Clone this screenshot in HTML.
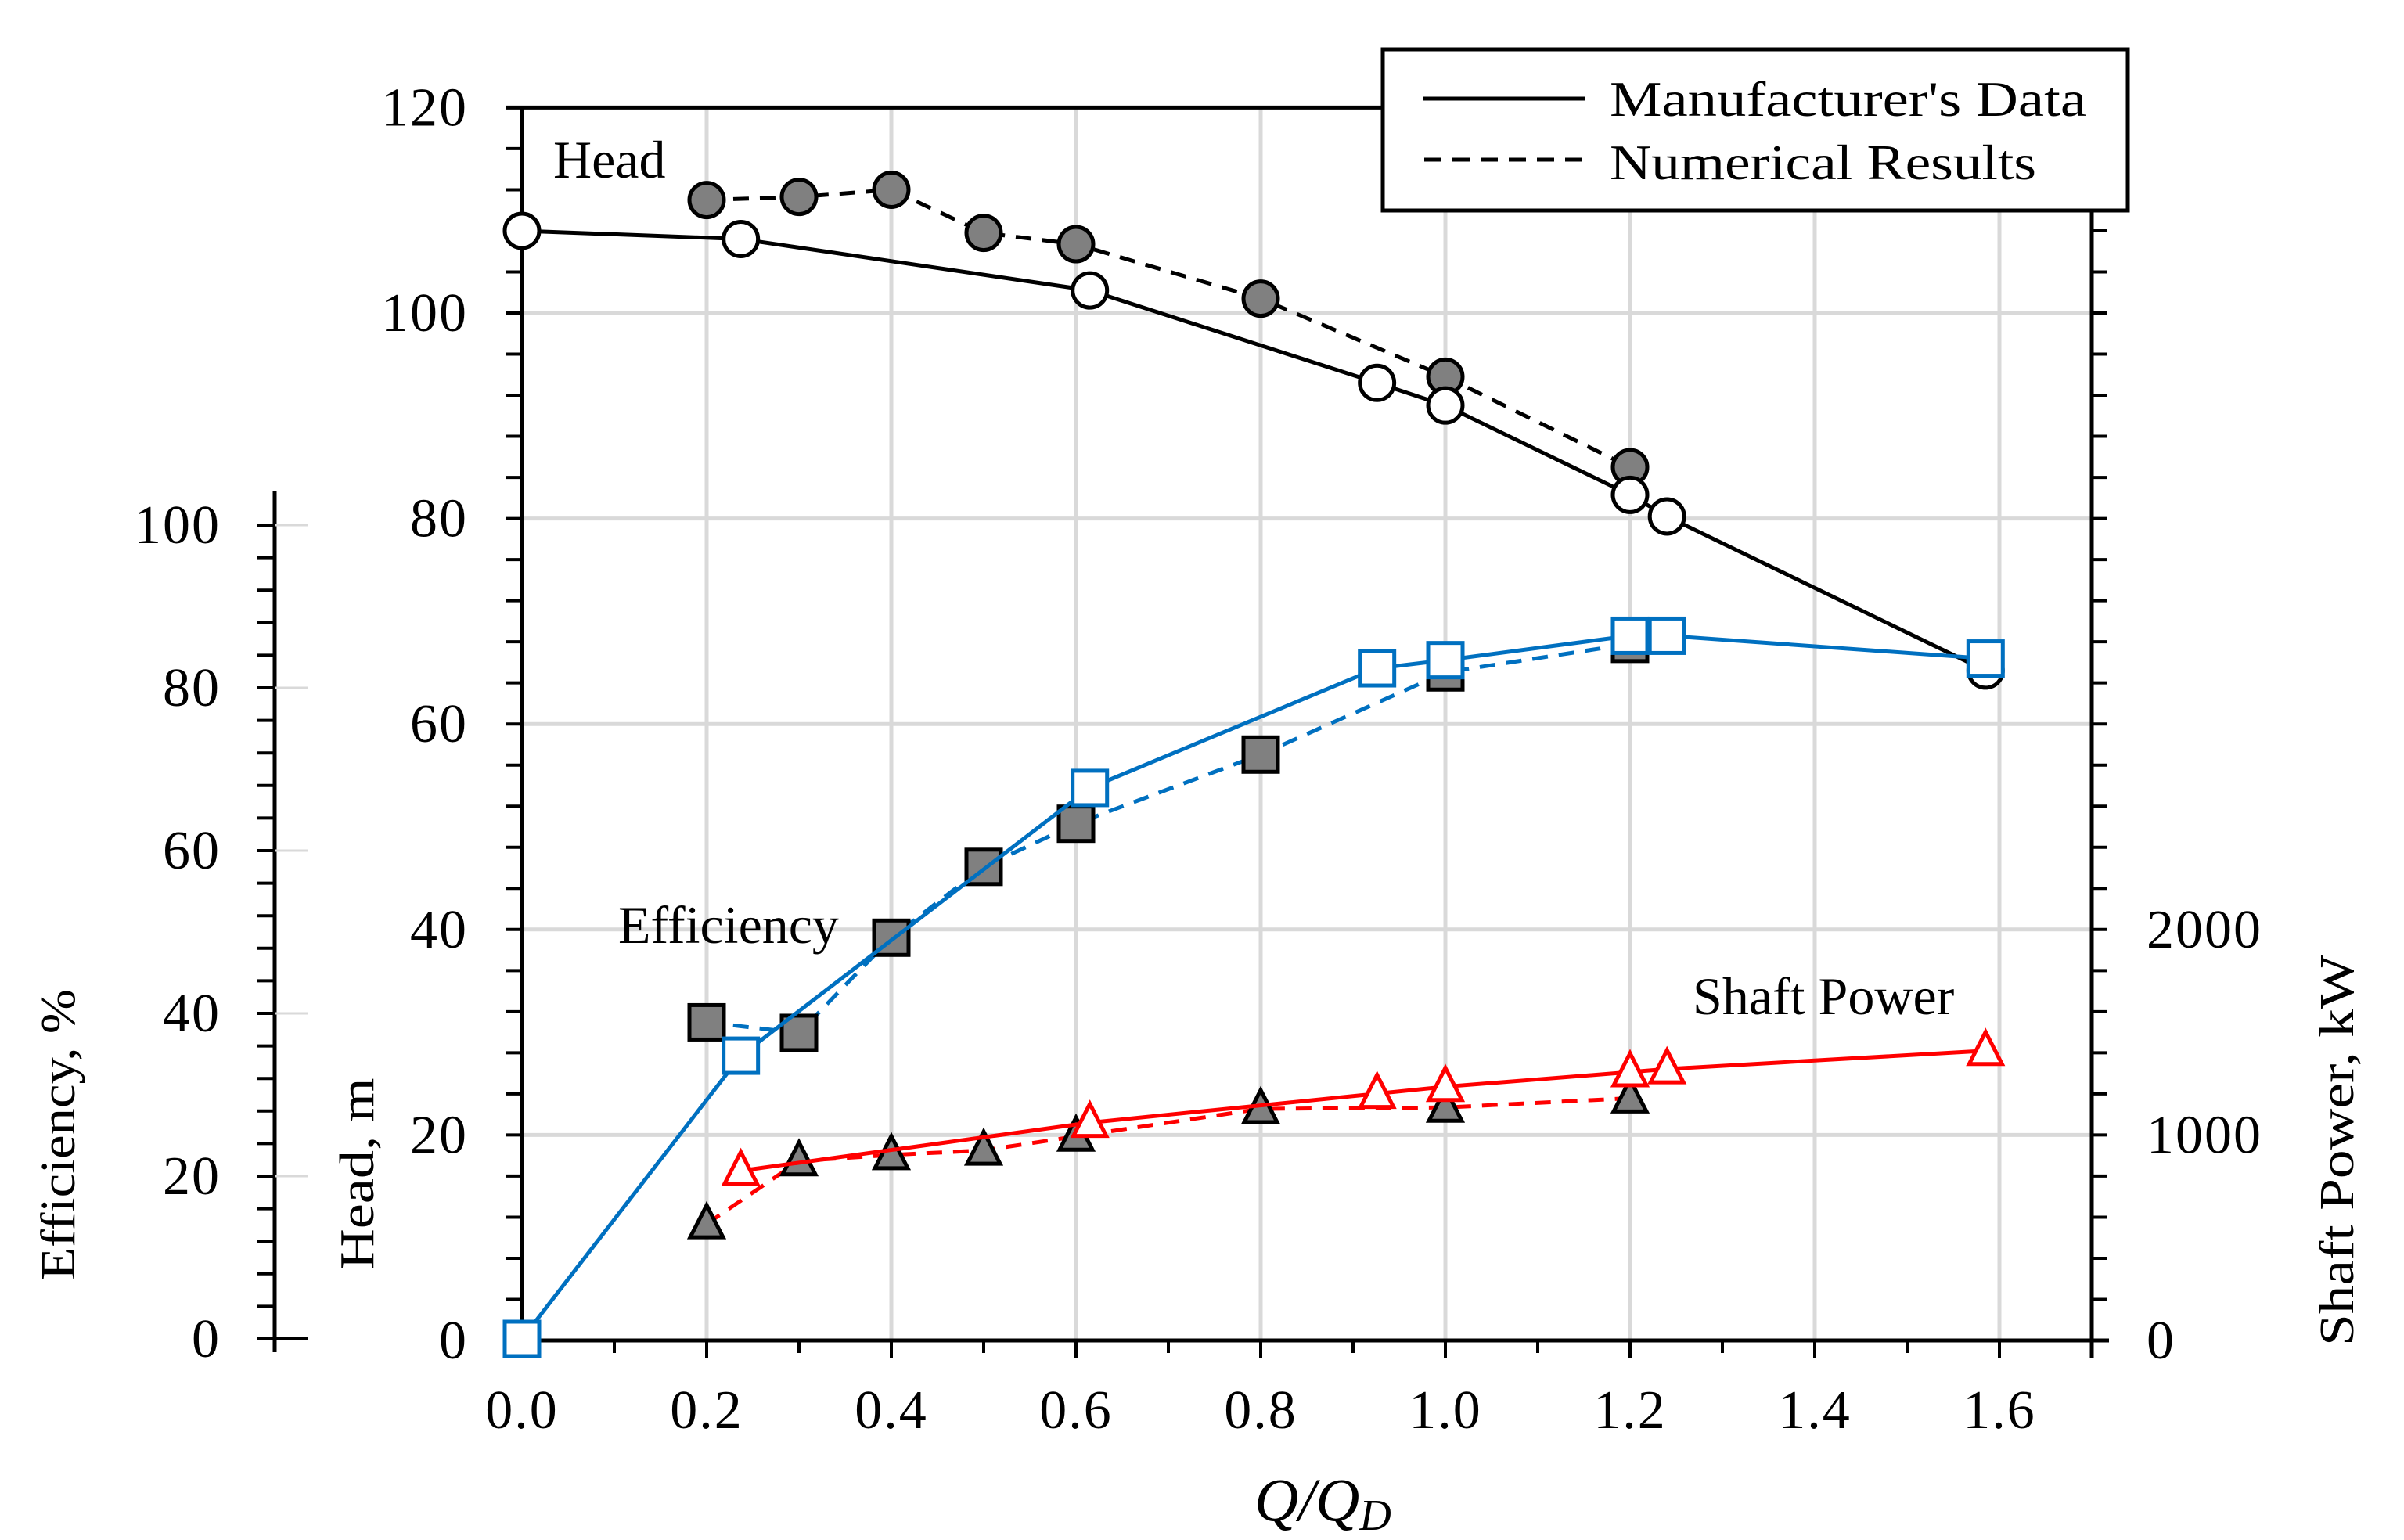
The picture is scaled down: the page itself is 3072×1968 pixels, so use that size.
<!DOCTYPE html>
<html><head><meta charset="utf-8"><style>
html,body{margin:0;padding:0;background:#fff}
svg{display:block}
text{font-family:"Liberation Serif",serif;fill:#000}
</style></head><body>
<svg id="chart" width="3072" height="1968" viewBox="0 0 3072 1968" xmlns="http://www.w3.org/2000/svg">
<g id="grid"></g>
<g id="axes"></g>
<g id="series"></g>
<g id="labels">
<text x="707" y="227" font-size="68">Head</text>
<text x="790" y="1205" font-size="68">Efficiency</text>
<text x="2163" y="1296" font-size="68">Shaft Power</text>
<text x="1603" y="1943" font-size="78" font-style="italic">Q/Q<tspan font-size="56" dy="12">D</tspan></text>
<text transform="translate(95,1450) rotate(-90)" text-anchor="middle" font-size="62" textLength="372" lengthAdjust="spacingAndGlyphs">Efficiency, %</text>
<text transform="translate(477,1500) rotate(-90)" text-anchor="middle" font-size="62" textLength="245" lengthAdjust="spacingAndGlyphs">Head, m</text>
<text transform="translate(3007,1470) rotate(-90)" text-anchor="middle" font-size="62" textLength="500" lengthAdjust="spacingAndGlyphs">Shaft Power, kW</text>
</g>
<g id="legend">
<rect x="1767" y="63" width="952" height="206" fill="#fff" stroke="#000" stroke-width="5"/>
<line x1="1818" y1="126" x2="2025" y2="126" stroke="#000" stroke-width="5"/>
<text x="2057" y="148" font-size="64" textLength="609" lengthAdjust="spacingAndGlyphs">Manufacturer's Data</text>
<line x1="1820" y1="204" x2="2025" y2="204" stroke="#000" stroke-width="5" stroke-dasharray="22,14"/>
<text x="2057" y="229" font-size="64" textLength="545" lengthAdjust="spacingAndGlyphs">Numerical Results</text>
</g>
</svg>
<script>
// ---- data ----
const headMfgQ = [0, 0.237, 0.615, 0.926, 1.0, 1.2, 1.24, 1.585];
const headMfg = [108, 107.2, 102.2, 93.2, 91, 82.3, 80.2, 65.2];
const headNumQ = [0.2, 0.3, 0.4, 0.5, 0.6, 0.8, 1.0, 1.2];
const headNum = [111, 111.3, 112, 107.8, 106.7, 101.4, 93.8, 85];
const effMfgQ = [0, 0.237, 0.615, 0.926, 1.0, 1.2, 1.24, 1.585];
const effMfg = [0, 34.8, 67.7, 82.4, 83.4, 86.4, 86.4, 83.6];
const effNumQ = [0.2, 0.3, 0.4, 0.5, 0.6, 0.8, 1.0, 1.2];
const effNum = [38.9, 37.6, 49.3, 58, 63.3, 71.8, 81.9, 85.4];
const powMfgQ = [0.237, 0.615, 0.926, 1.0, 1.2, 1.24, 1.585];
const powMfg = [826, 1060, 1201, 1235, 1306, 1321, 1410];
const powNumQ = [0.2, 0.3, 0.4, 0.5, 0.6, 0.8, 1.0, 1.2];
const powNum = [567, 873, 903, 925, 993, 1127, 1134, 1179];
const xTicks = ["0.0","0.2","0.4","0.6","0.8","1.0","1.2","1.4","1.6"];
const headTicks = ["0","20","40","60","80","100","120"];
const effTicks = ["0","20","40","60","80","100"];
const powTicks = ["0","1000","2000"];

// ---- scales ----
const X0 = 667, XS = 1180, Y0 = 1713, YS = 13.13;
const xs = q => X0 + q * XS;
const yh = h => Y0 - h * YS;
const ye = e => 1711 - e * 10.40;
const yp = p => Y0 - (p / 50) * YS;
const NS = "http://www.w3.org/2000/svg";
function mk(tag, parent, attrs) {
  const el = document.createElementNS(NS, tag);
  for (const k in attrs) el.setAttribute(k, attrs[k]);
  parent.appendChild(el);
  return el;
}
const grid = document.getElementById('grid');
const axes = document.getElementById('axes');
const series = document.getElementById('series');
const RIGHT = xs(1.7);

// gridlines
xTicks.forEach((t, i) => {
  const v = parseFloat(t);
  if (v <= 0) return;
  const l = mk('line', grid, {x1: xs(v), x2: xs(v), y1: yh(0), y2: yh(120), stroke: '#d9d9d9', 'stroke-width': 5});
  
  
});
headTicks.forEach(t => {
  const v = parseFloat(t);
  if (v <= 0 || v >= 120) return;
  const l = mk('line', grid, {x1: X0, x2: RIGHT, y1: yh(v), y2: yh(v), stroke: '#d9d9d9', 'stroke-width': 5});
  
  
});

// head axis
let a = mk('line', axes, {x1: X0, x2: X0, y1: yh(0) + 2, y2: yh(120) - 2, stroke: '#000', 'stroke-width': 5});


a = mk('line', axes, {x1: X0 - 20, x2: 1767, y1: yh(120), y2: yh(120), stroke: '#000', 'stroke-width': 5});


a = mk('line', axes, {x1: X0 - 20, x2: RIGHT + 22, y1: yh(0), y2: yh(0), stroke: '#000', 'stroke-width': 5});


a = mk('line', axes, {x1: RIGHT, x2: RIGHT, y1: yh(0) + 22, y2: 269, stroke: '#000', 'stroke-width': 5});


for (let h = 0; h <= 120; h += 4) {
  const t = mk('line', axes, {x1: X0 - 20, x2: X0, y1: yh(h), y2: yh(h), stroke: '#000', 'stroke-width': 4});
  
  
  if (yh(h) > 275) {
    const r = mk('line', axes, {x1: RIGHT, x2: RIGHT + 20, y1: yh(h), y2: yh(h), stroke: '#000', 'stroke-width': 4});
    
    
  }
}
for (let q = 0.1; q < 1.75; q += 0.1) {
  const major = Math.round(q * 10) % 2 === 0;
  const t = mk('line', axes, {x1: xs(q), x2: xs(q), y1: yh(0), y2: yh(0) + (major ? 22 : 16), stroke: '#000', 'stroke-width': 4});
  
  
}
headTicks.forEach(t => {
  const el = mk('text', axes, {x: 598, y: yh(parseFloat(t)) + 23, 'font-size': 70, 'text-anchor': 'end', 'letter-spacing': 2});
  
  
  el.textContent = t;
});
xTicks.forEach(t => {
  const el = mk('text', axes, {x: xs(parseFloat(t)), y: 1825, 'font-size': 70, 'text-anchor': 'middle', 'letter-spacing': 2});
  
  
  el.textContent = t;
});
powTicks.forEach(t => {
  const el = mk('text', axes, {x: 2743, y: yp(parseFloat(t)) + 23, 'font-size': 70, 'letter-spacing': 2});
  
  
  el.textContent = t;
});

// efficiency axis
const EX = 351;
a = mk('line', axes, {x1: EX, x2: EX, y1: 628, y2: 1728, stroke: '#000', 'stroke-width': 5});


for (let e = 0; e <= 100; e += 4) {
  const t = mk('line', axes, {x1: 329, x2: EX, y1: ye(e), y2: ye(e), stroke: '#000', 'stroke-width': 4});
  
  
}
effTicks.forEach(t => {
  const v = parseFloat(t);
  const g = mk('line', axes, {x1: EX, x2: 393, y1: ye(v), y2: ye(v), stroke: v === 0 ? '#000' : '#d9d9d9', 'stroke-width': v === 0 ? 4 : 3});
  
  
  const el = mk('text', axes, {x: 282, y: ye(v) + 23, 'font-size': 70, 'text-anchor': 'end', 'letter-spacing': 2});
  
  
  el.textContent = t;
});

// series
function line(qs, vs, yf, color, dashed, name) {
  const pts = qs.map((q, i) => xs(q) + ',' + yf(vs[i])).join(' ');
  const el = mk('polyline', series, {points: pts, fill: 'none', stroke: color, 'stroke-width': 5, 'stroke-dasharray': dashed ? '20,14' : 'none'});
  
  
}
function markers(qs, vs, yf, shape, fill, stroke, name) {
  qs.forEach((q, i) => {
    const cx = xs(q), cy = yf(vs[i]);
    let el;
    if (shape === 'circle') el = mk('circle', series, {cx: cx, cy: cy, r: 22, fill: fill, stroke: stroke, 'stroke-width': 5});
    else if (shape === 'square') el = mk('rect', series, {x: cx - 22, y: cy - 22, width: 44, height: 44, fill: fill, stroke: stroke, 'stroke-width': 5});
    else el = mk('polygon', series, {points: `${cx},${cy - 24} ${cx - 21},${cy + 17} ${cx + 21},${cy + 17}`, fill: fill, stroke: stroke, 'stroke-width': 5, 'stroke-linejoin': 'miter'});
    
    
  });
}
// numerical (dashed) first
line(headNumQ, headNum, yh, '#000', true, 'head-numerical-line');
line(effNumQ, effNum, ye, '#0070c0', true, 'efficiency-numerical-line');
line(powNumQ, powNum, yp, '#ff0000', true, 'power-numerical-line');
markers(headNumQ, headNum, yh, 'circle', '#808080', '#000', 'head-numerical-point');
markers(effNumQ, effNum, ye, 'square', '#808080', '#000', 'efficiency-numerical-point');
markers(powNumQ, powNum, yp, 'tri', '#808080', '#000', 'power-numerical-point');
line(headMfgQ, headMfg, yh, '#000', false, 'head-manufacturer-line');
markers(headMfgQ, headMfg, yh, 'circle', '#fff', '#000', 'head-manufacturer-point');
line(effMfgQ, effMfg, ye, '#0070c0', false, 'efficiency-manufacturer-line');
markers(effMfgQ, effMfg, ye, 'square', '#fff', '#0070c0', 'efficiency-manufacturer-point');
line(powMfgQ, powMfg, yp, '#ff0000', false, 'power-manufacturer-line');
markers(powMfgQ, powMfg, yp, 'tri', '#fff', '#ff0000', 'power-manufacturer-point');
</script>
</body></html>
